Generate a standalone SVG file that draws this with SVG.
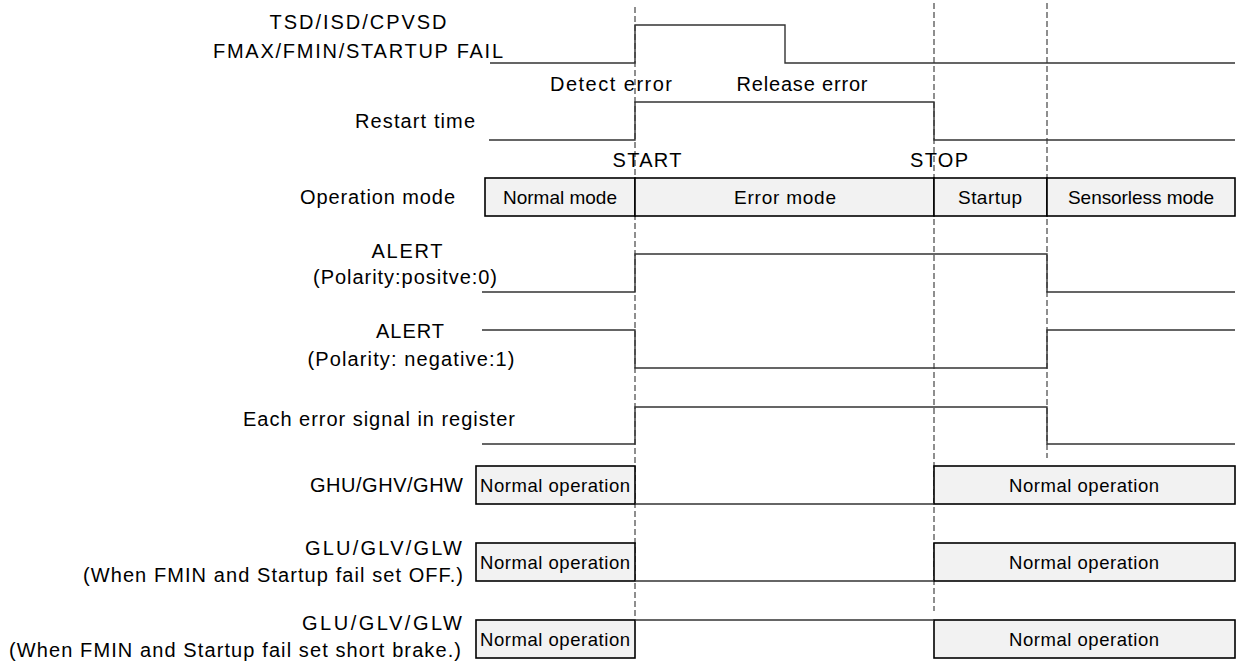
<svg xmlns="http://www.w3.org/2000/svg" width="1236" height="663" viewBox="0 0 1236 663">
<style>
text{font-family:"Liberation Sans",Arial,sans-serif;font-size:20px;fill:#000}
.m{text-anchor:middle}
.e{text-anchor:end}
.mb{font-size:19px;text-anchor:middle}
.bt{font-size:18.5px;text-anchor:middle}
.sig{fill:none;stroke:#333;stroke-width:1.4}
.dash{fill:none;stroke:#444;stroke-width:1.2;stroke-dasharray:6 3}
.box{fill:#f2f2f2;stroke:#000;stroke-width:1.6}
</style>
<rect width="1236" height="663" fill="#fff"/>
<g id="guides">
<line class="dash" x1="635" y1="7" x2="635" y2="618"/>
<line class="dash" x1="934" y1="3" x2="934" y2="611"/>
<line class="dash" x1="1047" y1="3" x2="1047" y2="458"/>
</g>
<g id="row-fail">
<text class="m" x="358" y="29" textLength="177">TSD/ISD/CPVSD</text>
<text class="m" x="358" y="58" textLength="290">FMAX/FMIN/STARTUP FAIL</text>
<text x="550" y="91" textLength="122">Detect error</text>
<text class="m" x="802" y="91" textLength="131">Release error</text>
</g>
<g id="row-restart">
<text class="e" x="475" y="128" textLength="120">Restart time</text>
<text class="m" x="647" y="167" textLength="69">START</text>
<text class="m" x="939" y="167" textLength="58">STOP</text>
</g>
<g id="row-mode">
<text class="e" x="455" y="204" textLength="155">Operation mode</text>
<rect class="box" x="485" y="178" width="150" height="38"/>
<text class="mb" x="560" y="204" textLength="114">Normal mode</text>
<rect class="box" x="635" y="178" width="299" height="38"/>
<text class="mb" x="785" y="204" textLength="102">Error mode</text>
<rect class="box" x="934" y="178" width="113" height="38"/>
<text class="mb" x="990" y="204" textLength="64">Startup</text>
<rect class="box" x="1047" y="178" width="188" height="38"/>
<text class="mb" x="1141" y="204" textLength="146">Sensorless mode</text>
</g>
<g id="row-alert-pos">
<text class="m" x="407" y="258" textLength="71">ALERT</text>
<text class="m" x="405" y="284" textLength="184">(Polarity:positve:0)</text>
</g>
<g id="row-alert-neg">
<text class="m" x="410" y="338" textLength="68">ALERT</text>
<text class="m" x="411" y="366" textLength="207">(Polarity: negative:1)</text>
</g>
<g id="row-register">
<text class="e" x="515" y="426" textLength="272">Each error signal in register</text>
</g>
<g id="row-ghu">
<text class="e" x="463" y="492" textLength="153">GHU/GHV/GHW</text>
<rect class="box" x="476" y="466" width="159" height="38"/>
<text class="bt" x="555" y="492" textLength="150">Normal operation</text>
<rect class="box" x="934" y="466" width="301" height="38"/>
<text class="bt" x="1084" y="492" textLength="150">Normal operation</text>
</g>
<g id="row-glu-off">
<text class="e" x="462" y="555" textLength="157">GLU/GLV/GLW</text>
<text class="e" x="463" y="582" textLength="380">(When FMIN and Startup fail set OFF.)</text>
<rect class="box" x="476" y="543" width="159" height="38"/>
<text class="bt" x="555" y="569" textLength="150">Normal operation</text>
<rect class="box" x="934" y="543" width="301" height="38"/>
<text class="bt" x="1084" y="569" textLength="150">Normal operation</text>
</g>
<g id="row-glu-brake">
<text class="e" x="462" y="630" textLength="160">GLU/GLV/GLW</text>
<text class="e" x="461" y="657" textLength="452">(When FMIN and Startup fail set short brake.)</text>
<rect class="box" x="476" y="620" width="159" height="38"/>
<text class="bt" x="555" y="646" textLength="150">Normal operation</text>
<rect class="box" x="934" y="620" width="301" height="38"/>
<text class="bt" x="1084" y="646" textLength="150">Normal operation</text>
</g>
<g id="connectors">
<polyline class="sig" points="490,63 635,63 635,25 785,25 785,63 1235,63"/>
<polyline class="sig" points="489,140 635,140 635,102 934,102 934,140 1235,140"/>
<polyline class="sig" points="482,292 635,292 635,254 1047,254 1047,292 1235,292"/>
<polyline class="sig" points="482,330 635,330 635,368 1047,368 1047,330 1235,330"/>
<polyline class="sig" points="482,444 635,444 635,407 1047,407 1047,444 1235,444"/>
<line class="sig" x1="635" y1="504" x2="934" y2="504"/>
<line class="sig" x1="635" y1="581" x2="934" y2="581"/>
<line class="sig" x1="635" y1="620" x2="934" y2="620"/>
</g>
</svg>
